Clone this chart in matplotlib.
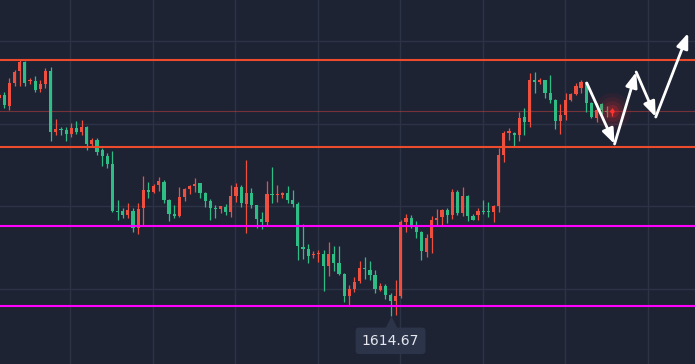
import numpy as np
import matplotlib
matplotlib.use("Agg")
import matplotlib.pyplot as plt

# === Chart data ===
opens = [1636.5, 1636.8, 1635.7, 1638.0, 1639.2, 1640.1, 1638.2, 1638.2, 1637.4, 1637.9,
         1639.2, 1633.1, 1633.4, 1633.3, 1632.9, 1633.5, 1633.1, 1633.6, 1631.9, 1632.3,
         1631.3, 1630.7, 1629.9, 1625.2, 1625.2, 1624.8, 1625.2, 1623.5, 1625.5, 1627.3,
         1627.1, 1627.8, 1628.1, 1626.3, 1624.9, 1624.7, 1626.6, 1627.4, 1627.7, 1628.0,
         1627.0, 1626.2, 1625.5, 1625.4, 1625.6, 1625.1, 1626.7, 1627.6, 1625.9, 1627.0,
         1625.8, 1624.4, 1624.1, 1626.9, 1626.8, 1626.8, 1627.0, 1626.3, 1625.9, 1621.6,
         1621.4, 1620.8, 1620.9, 1620.9, 1619.7, 1620.9, 1620.0, 1618.9, 1616.7, 1617.4,
         1618.2, 1619.5, 1619.3, 1618.8, 1617.3, 1617.7, 1616.8, 1616.2, 1616.7, 1624.1,
         1624.5, 1623.6, 1623.1, 1621.1, 1622.5, 1624.3, 1624.6, 1625.3, 1624.8, 1627.1,
         1625.0, 1626.7, 1624.7, 1624.8, 1625.2, 1625.2, 1625.1, 1625.7, 1630.8, 1633.0,
         1633.0, 1632.8, 1634.6, 1634.1, 1638.3, 1638.1, 1638.3, 1637.0, 1636.3, 1634.2,
         1634.8, 1636.3, 1636.9, 1637.5, 1638.1, 1636.0, 1634.5, 1635.9, 1635.2, 1635.1]
highs = [1637.0, 1637.1, 1638.5, 1639.3, 1640.3, 1640.2, 1638.5, 1638.7, 1638.3, 1639.5,
         1639.6, 1634.4, 1633.6, 1633.6, 1634.0, 1634.2, 1634.3, 1633.7, 1632.5, 1632.5,
         1631.5, 1631.0, 1631.2, 1626.3, 1625.5, 1626.0, 1625.5, 1626.0, 1628.7, 1628.1,
         1627.9, 1628.6, 1628.3, 1626.4, 1625.8, 1627.6, 1627.5, 1627.8, 1628.5, 1628.0,
         1627.1, 1626.4, 1625.8, 1625.7, 1625.9, 1627.8, 1628.0, 1627.8, 1630.3, 1627.5,
         1625.8, 1625.1, 1628.2, 1629.6, 1627.8, 1627.1, 1627.7, 1627.3, 1626.1, 1623.9,
         1621.9, 1621.2, 1621.3, 1621.3, 1622.1, 1621.7, 1621.7, 1619.0, 1617.8, 1618.6,
         1620.2, 1620.6, 1620.2, 1619.3, 1618.0, 1617.9, 1617.0, 1618.3, 1624.3, 1624.9,
         1624.8, 1624.2, 1623.2, 1622.9, 1624.7, 1625.4, 1625.4, 1625.5, 1627.4, 1627.3,
         1627.6, 1626.8, 1624.9, 1625.5, 1626.3, 1626.1, 1625.8, 1631.5, 1633.2, 1633.5,
         1633.1, 1635.1, 1635.5, 1639.0, 1639.1, 1638.5, 1638.3, 1638.8, 1636.4, 1635.9,
         1637.0, 1637.0, 1638.0, 1638.3, 1638.1, 1636.1, 1636.0, 1636.0, 1635.7, 1635.5]
lows = [1636.3, 1635.5, 1635.3, 1637.7, 1637.7, 1637.7, 1637.9, 1637.1, 1637.1, 1637.5,
        1632.2, 1632.8, 1632.8, 1632.2, 1632.6, 1632.9, 1632.8, 1631.3, 1631.7, 1630.8,
        1629.7, 1629.5, 1625.1, 1624.3, 1624.5, 1624.5, 1623.1, 1622.9, 1623.8, 1626.5,
        1627.0, 1627.2, 1626.0, 1624.2, 1624.5, 1624.6, 1626.2, 1626.9, 1627.1, 1626.5,
        1625.6, 1624.3, 1624.5, 1625.0, 1624.8, 1624.6, 1626.1, 1625.6, 1623.0, 1625.5,
        1623.5, 1623.4, 1623.8, 1626.0, 1626.1, 1626.5, 1626.0, 1625.6, 1620.3, 1620.4,
        1620.0, 1620.5, 1620.1, 1617.2, 1618.7, 1619.2, 1618.8, 1616.1, 1615.8, 1617.1,
        1618.0, 1618.4, 1618.3, 1617.0, 1617.2, 1616.4, 1614.67, 1614.8, 1616.5, 1623.1,
        1623.5, 1622.5, 1620.3, 1620.6, 1621.0, 1623.8, 1623.8, 1624.0, 1624.4, 1624.8,
        1624.7, 1624.2, 1624.3, 1624.3, 1624.9, 1624.6, 1624.1, 1625.1, 1630.1, 1632.3,
        1631.7, 1632.2, 1632.8, 1633.6, 1637.0, 1637.9, 1636.5, 1636.0, 1633.4, 1632.9,
        1634.3, 1636.2, 1636.8, 1637.0, 1635.1, 1634.5, 1634.1, 1634.9, 1634.6, 1634.7]
closes = [1636.8, 1635.8, 1638.0, 1639.1, 1640.1, 1638.0, 1638.3, 1637.3, 1637.9, 1639.2,
          1633.1, 1633.4, 1633.3, 1632.9, 1633.5, 1633.1, 1633.6, 1631.9, 1632.3, 1631.1,
          1630.7, 1629.9, 1625.2, 1625.1, 1624.8, 1625.3, 1623.5, 1625.4, 1627.3, 1627.1,
          1627.7, 1628.2, 1626.3, 1624.9, 1624.7, 1626.6, 1627.4, 1627.7, 1627.9, 1627.0,
          1626.2, 1625.5, 1625.4, 1625.7, 1625.1, 1626.7, 1627.6, 1626.0, 1627.0, 1625.8,
          1624.4, 1624.1, 1626.9, 1626.8, 1626.9, 1627.0, 1626.3, 1625.9, 1621.7, 1621.4,
          1620.7, 1620.9, 1621.0, 1619.7, 1620.9, 1620.0, 1618.9, 1616.7, 1617.4, 1618.1,
          1619.5, 1619.4, 1618.8, 1617.4, 1617.7, 1616.8, 1616.2, 1616.7, 1624.1, 1624.5,
          1623.6, 1623.1, 1621.2, 1622.5, 1624.3, 1624.5, 1625.3, 1624.8, 1627.1, 1625.0,
          1626.7, 1624.7, 1624.3, 1625.2, 1625.1, 1625.1, 1625.7, 1630.8, 1633.0, 1633.2,
          1632.8, 1634.5, 1634.1, 1638.3, 1638.1, 1638.3, 1637.0, 1636.3, 1634.2, 1634.8,
          1636.3, 1636.9, 1637.7, 1638.1, 1636.0, 1634.6, 1635.3, 1635.3, 1635.1, 1635.2]

resistance_levels = [1640.3, 1631.6]   # red lines
support_levels = [1623.7, 1615.7]      # magenta lines
grid_prices = [1642.2, 1633.9, 1625.7, 1617.4]
grid_bars = [13.8, 29.9, 45.8, 61.9, 77.8, 93.9, 109.9, 126.0]

# projected zig-zag path (bar index, price)
path_x = [114.1, 119.5, 123.7, 127.5, 133.8]
path_y = [1638.0, 1631.9, 1639.1, 1634.6, 1643.0]

# === Style ===
BG = "#1e2334"
UP = "#ef4f3f"     # red = rising
DOWN = "#2ebd85"   # green = falling
GRID = "#2c3345"

o = np.array(opens)
h = np.array(highs)
l = np.array(lows)
c = np.array(closes)
idx = np.arange(len(o))
colors = np.where(c >= o, UP, DOWN)

fig = plt.figure(figsize=(6.95, 3.64), dpi=100, facecolor=BG)
ax = fig.add_axes([0, 0, 1, 1])
ax.set_facecolor(BG)

# grid
for gp in grid_prices:
    ax.axhline(gp, color=GRID, lw=1.0, zorder=0)
for gb in grid_bars:
    ax.axvline(gb, color=GRID, lw=1.0, zorder=0)

# candles
ax.vlines(idx, l, h, colors=colors, lw=0.9, zorder=2)
body = np.maximum(np.abs(c - o), 0.1)
ax.bar(idx, body, bottom=np.minimum(o, c), width=0.62, color=colors, lw=0, zorder=3)

# key levels
for lv in resistance_levels:
    ax.axhline(lv, color="#ee4a2c", lw=1.5, zorder=4)
for lv in support_levels:
    ax.axhline(lv, color="#ff00ff", lw=1.5, zorder=4)

# last price line + glow
last = c[-1]
ax.axhline(last, color="#e0483e", lw=0.8, alpha=0.45, zorder=1)
for s, a in [(700, 0.06), (420, 0.08), (220, 0.12), (90, 0.2)]:
    ax.scatter(idx[-1], last, s=s, color="#ff2a2a", alpha=a, lw=0, zorder=5)
ax.scatter(idx[-1], last, s=10, color="#ff3030", lw=0, zorder=6)

# projection arrows
for i in range(len(path_x) - 1):
    ax.annotate("", xy=(path_x[i + 1], path_y[i + 1]), xytext=(path_x[i], path_y[i]),
                arrowprops=dict(arrowstyle="-|>,head_length=0.9,head_width=0.35",
                                color="white", lw=2.0, shrinkA=0, shrinkB=0),
                zorder=7)

# lowest low label
lo_i = int(np.argmin(l))
lo_v = l[lo_i]
ax.scatter(lo_i, lo_v - 0.65, marker="^", s=110, color="#2b3449", lw=0, zorder=7)
ax.text(lo_i, lo_v - 2.45, f"{lo_v:.2f}", color="#e6e8ee", fontsize=10,
        ha="center", va="center", zorder=8,
        bbox=dict(boxstyle="round,pad=0.45,rounding_size=0.25", fc="#2b3449", ec="none"))

ax.set_xlim(0.165, 135.12)
ax.set_ylim(1609.9, 1646.3)
ax.axis("off")

fig.savefig("out.png", dpi=100, facecolor=BG)
